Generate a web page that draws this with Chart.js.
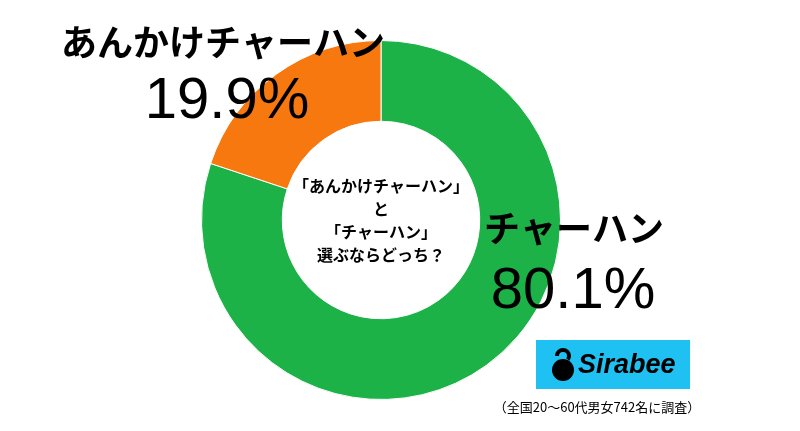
<!DOCTYPE html>
<html><head><meta charset="utf-8">
<script src="https://cdn.jsdelivr.net/npm/chart.js@4"></script>
<style>body{margin:0;background:#fff}</style>
</head><body>
<canvas id="myChart" width="800" height="431"></canvas>
<script>
//setup
const labels = ['チャーハン', 'あんかけチャーハン'];
const values = [80.1, 19.9];
const colors = ['#1DB247', '#F7780F'];
const centerLines = ['「あんかけチャーハン」', 'と', '「チャーハン」', '選ぶならどっち？'];

const FONT = '"Noto Sans CJK JP", sans-serif';

const textPlugin = {
  id: 'texts',
  afterDraw(chart) {
    const ctx = chart.ctx;
    ctx.save();
    ctx.fillStyle = '#000';
    ctx.textBaseline = 'middle';
    ctx.textAlign = 'center';
    // center text
    ctx.font = 'bold 16px ' + FONT;
    centerLines.forEach((t, i) => ctx.fillText(t, 381, 186 + i * 23));
    // labels
    ctx.font = 'bold 36px ' + FONT;
    ctx.fillText(labels[1], 223, 42);
    ctx.fillText(labels[0], 574, 228);
    ctx.font = '58px Arial, "Liberation Sans", sans-serif';
    ctx.fillText(values[1].toFixed(1) + '%', 227, 102);
    ctx.fillText(values[0].toFixed(1) + '%', 573, 292);
    // logo
    ctx.fillStyle = '#1FC1F2';
    ctx.fillRect(536, 340, 154, 49);
    ctx.fillStyle = '#000';
    ctx.beginPath(); ctx.arc(563, 370, 11, 0, Math.PI * 2); ctx.fill();
    ctx.lineWidth = 4; ctx.strokeStyle = '#000';
    ctx.beginPath(); ctx.arc(563, 356, 6, Math.PI, Math.PI * 2.2); ctx.stroke();
    ctx.font = 'italic bold 27px "Liberation Sans", Arial, sans-serif';
    ctx.textAlign = 'left';
    ctx.fillText('Sirabee', 578, 366);
    ctx.font = '13px ' + FONT;
    ctx.textAlign = 'center';
    ctx.fillText('（全国20～60代男女742名に調査）', 597, 407);
    ctx.restore();
  }
};

//config
const config = {
  type: 'doughnut',
  data: {
    labels,
    datasets: [{ data: values, backgroundColor: colors, borderColor: '#fff', borderWidth: 1 }]
  },
  options: {
    responsive: false,
    animation: false,
    cutout: '55%',
    layout: { padding: { left: 201, right: 239, top: 40, bottom: 31 } },
    plugins: { legend: { display: false }, tooltip: { enabled: false } }
  },
  plugins: [textPlugin]
};

//render
const myChart = new Chart(document.getElementById('myChart'), config);
</script>
</body></html>
